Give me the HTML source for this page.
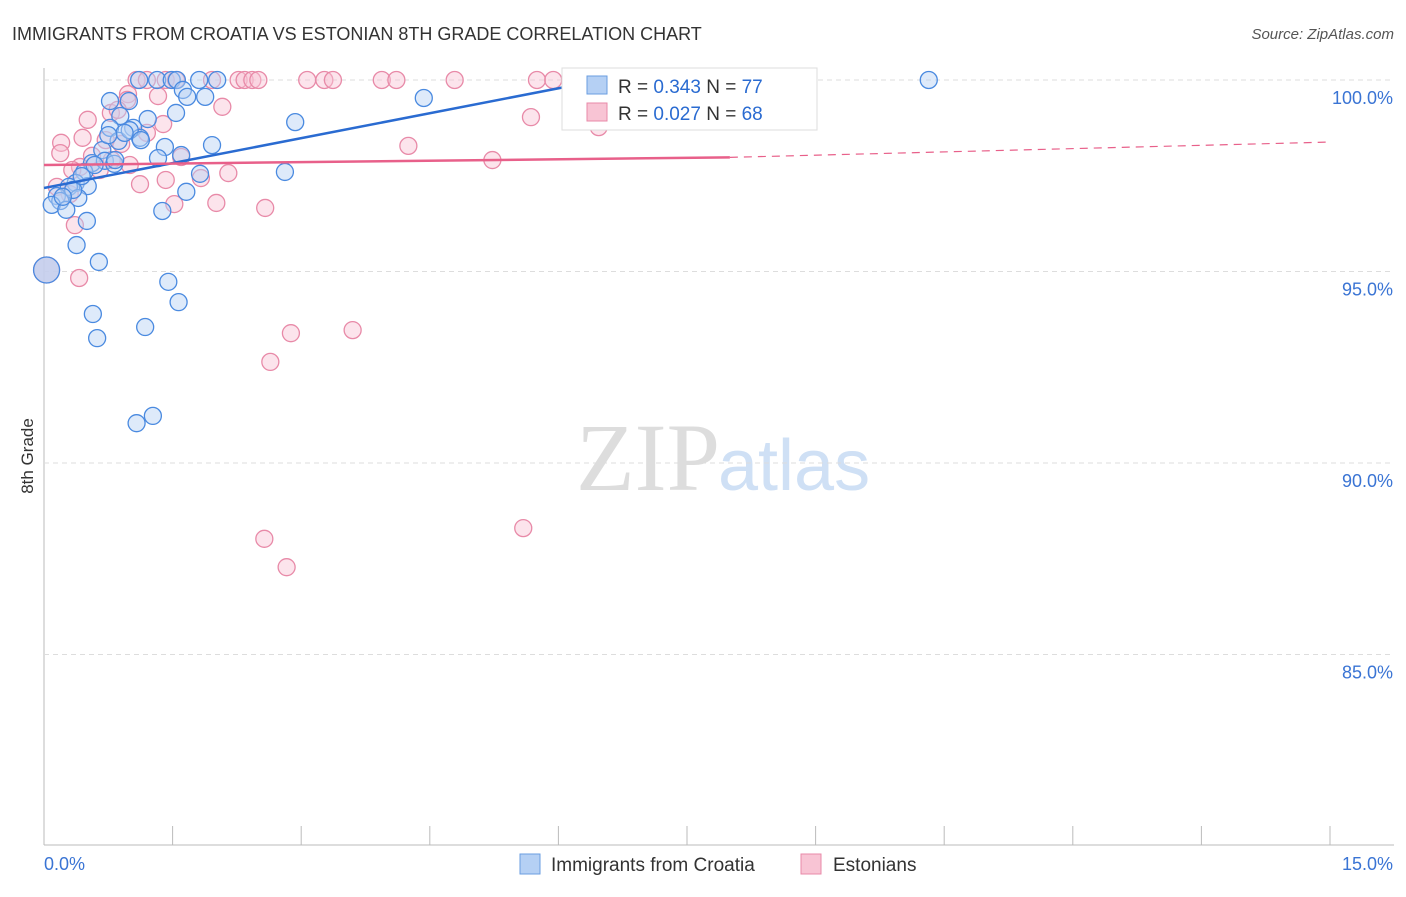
<!DOCTYPE html><html><head><meta charset="utf-8"><style>
body{margin:0;background:#fff;font-family:"Liberation Sans",sans-serif}
</style></head><body>
<svg id="c" width="1406" height="892" xmlns="http://www.w3.org/2000/svg" font-family="Liberation Sans, sans-serif">
<text x="12" y="40" font-size="18" fill="#333">IMMIGRANTS FROM CROATIA VS ESTONIAN 8TH GRADE CORRELATION CHART</text>
<text x="1394" y="39" font-size="15" fill="#555" font-style="italic" text-anchor="end">Source: ZipAtlas.com</text>
<text x="33" y="456" font-size="17" fill="#333" transform="rotate(-90 33 456)" text-anchor="middle">8th Grade</text>
<text x="720" y="490" font-size="96" fill="#ddd" text-anchor="end" font-family="Liberation Serif, serif">ZIP</text>
<text x="718" y="490" font-size="72" fill="#cfe0f5">atlas</text>
<g id="grid"></g><g id="pts"></g><g id="lines"></g>
<g>
<rect x="562" y="68" width="255" height="62" fill="#fff" stroke="#ddd"/>
<rect x="587" y="76" width="20" height="18" fill="#b5d0f4" stroke="#6a9ee0"/>
<text x="618" y="93" font-size="19" fill="#333">R = <tspan fill="#2a6bd1">0.343</tspan>   N = <tspan fill="#2a6bd1">77</tspan></text>
<rect x="587" y="103" width="20" height="18" fill="#f8c4d4" stroke="#e88aa8"/>
<text x="618" y="120" font-size="19" fill="#333">R = <tspan fill="#2a6bd1">0.027</tspan>   N = <tspan fill="#2a6bd1">68</tspan></text>
</g>
<g>
<rect x="520" y="854" width="20" height="20" fill="#b5d0f4" stroke="#6a9ee0"/>
<text x="551" y="871" font-size="19" fill="#333">Immigrants from Croatia</text>
<rect x="801" y="854" width="20" height="20" fill="#f8c4d4" stroke="#e88aa8"/>
<text x="833" y="871" font-size="19" fill="#333">Estonians</text>
</g>
</svg>
<script>
const yTicks=[100,95,90,85];
const yTickLabels=["100.0%","95.0%","90.0%","85.0%"];
const xTicks=[0,1.5,3,4.5,6,7.5,9,10.5,12,13.5,15];
const blueX=[1.11,1.32,1.49,1.55,1.81,2.02,10.32,1.62,1.67,1.88,0.77,0.99,4.43,1.54,1.21,0.89,2.93,1.04,0.77,1.12,1.41,1.96,0.87,0.68,1.33,1.60,0.56,0.71,0.82,0.47,0.37,0.51,0.29,0.15,0.19,0.09,0.26,0.40,0.50,1.38,1.66,1.82,2.81,0.38,0.64,0.03,1.45,1.57,0.57,0.62,1.18,1.08,1.27,1.00,0.94,0.34,0.44,0.22,0.59,0.83,1.13,0.75];
const blueY=[100,100,100,100,100,100,100,99.74,99.56,99.56,99.45,99.45,99.53,99.14,98.98,99.06,98.90,98.75,98.75,98.49,98.25,98.30,98.41,98.17,97.96,98.04,97.83,97.89,97.81,97.60,97.31,97.23,97.21,96.97,96.84,96.74,96.61,96.92,96.32,96.58,97.08,97.55,97.60,95.69,95.25,95.04,94.73,94.20,93.89,93.26,93.55,91.04,91.23,98.69,98.62,97.13,97.49,96.95,97.78,97.91,98.43,98.56];
const pinkX=[1.08,1.20,1.42,1.54,1.96,2.27,2.34,2.43,2.50,3.07,3.27,3.37,3.94,4.11,4.79,5.75,5.94,7.84,0.98,1.33,2.08,0.97,0.78,5.68,0.51,1.39,4.25,0.45,0.20,0.19,0.90,0.56,1.60,0.79,0.42,0.65,2.15,1.83,0.15,1.12,1.42,5.23,0.30,2.01,1.52,2.58,0.36,0.41,0.03,2.88,3.60,2.64,2.57,2.83,5.59,6.47,1.00,1.20,0.72,0.33,0.86];
const pinkY=[100,100,100,100,100,100,100,100,100,100,100,100,100,100,100,100,100,100,99.63,99.58,99.30,99.48,99.14,99.03,98.96,98.85,98.28,98.49,98.36,98.09,98.33,98.02,97.99,97.91,97.73,97.65,97.57,97.44,97.21,97.28,97.39,97.91,97.02,96.79,96.76,96.66,96.21,94.83,95.04,93.39,93.47,92.64,88.02,87.28,88.30,98.77,97.78,98.62,98.43,97.65,99.22];
const blueTrend=[[0,97.18],[6.5,100]];
const pinkTrend=[[0,97.78],[8.0,97.98],[15,98.38]];
const X=v=>44+v/15*1286, Y=v=>80+(100-v)*38.3;
const NS="http://www.w3.org/2000/svg";
function mk(t,a,p){const e=document.createElementNS(NS,t);for(const k in a)e.setAttribute(k,a[k]);p.appendChild(e);return e;}
const g=document.getElementById('grid');
let ax=mk('line',{x1:44,y1:68,x2:44,y2:845,stroke:'#bbb'},g);


let bx=mk('line',{x1:44,y1:845,x2:1394,y2:845,stroke:'#bbb'},g);


yTicks.forEach((t,i)=>{
 const l=mk('line',{x1:44,x2:1394,y1:Y(t),y2:Y(t),stroke:'#ddd','stroke-dasharray':'5,4'},g);
 
 
 const tx=mk('text',{x:1393,y:Y(t)+24,'font-size':18,fill:'#3a74d4','text-anchor':'end'},g);tx.textContent=yTickLabels[i];
 
 
});
xTicks.forEach(t=>{const l=mk('line',{x1:X(t),x2:X(t),y1:826,y2:845,stroke:'#bbb'},g);
 
 });
let t0=mk('text',{x:44,y:870,'font-size':18,fill:'#3a74d4'},g);t0.textContent='0.0%';


let t1=mk('text',{x:1393,y:870,'font-size':18,fill:'#3a74d4','text-anchor':'end'},g);t1.textContent='15.0%';


const p=document.getElementById('pts');
function dots(xs,ys,fill,stroke,name){xs.forEach((x,i)=>{const big=(x<0.05&&ys[i]>94.9&&ys[i]<95.1);
 const c=mk('circle',{cx:X(x),cy:Y(ys[i]),r:big?13:8.5,fill:fill,'fill-opacity':big?0.7:0.45,stroke:stroke,'stroke-width':1.3},p);
 
 });}
dots(pinkX,pinkY,'#f8c4d4','#e88aa8','estonian-point');
dots(blueX,blueY,'#b5d0f4','#4a8ae0','croatia-point');
const L=document.getElementById('lines');
let bl=mk('line',{x1:X(blueTrend[0][0]),y1:Y(blueTrend[0][1]),x2:X(blueTrend[1][0]),y2:Y(blueTrend[1][1]),stroke:'#2a6bd1','stroke-width':2.5},L);


let pl=mk('line',{x1:X(pinkTrend[0][0]),y1:Y(pinkTrend[0][1]),x2:X(pinkTrend[1][0]),y2:Y(pinkTrend[1][1]),stroke:'#e8608a','stroke-width':2.5},L);


let pd=mk('line',{x1:X(pinkTrend[1][0]),y1:Y(pinkTrend[1][1]),x2:X(pinkTrend[2][0]),y2:Y(pinkTrend[2][1]),stroke:'#e8608a','stroke-width':1.2,'stroke-dasharray':'8,6'},L);


</script></body></html>
